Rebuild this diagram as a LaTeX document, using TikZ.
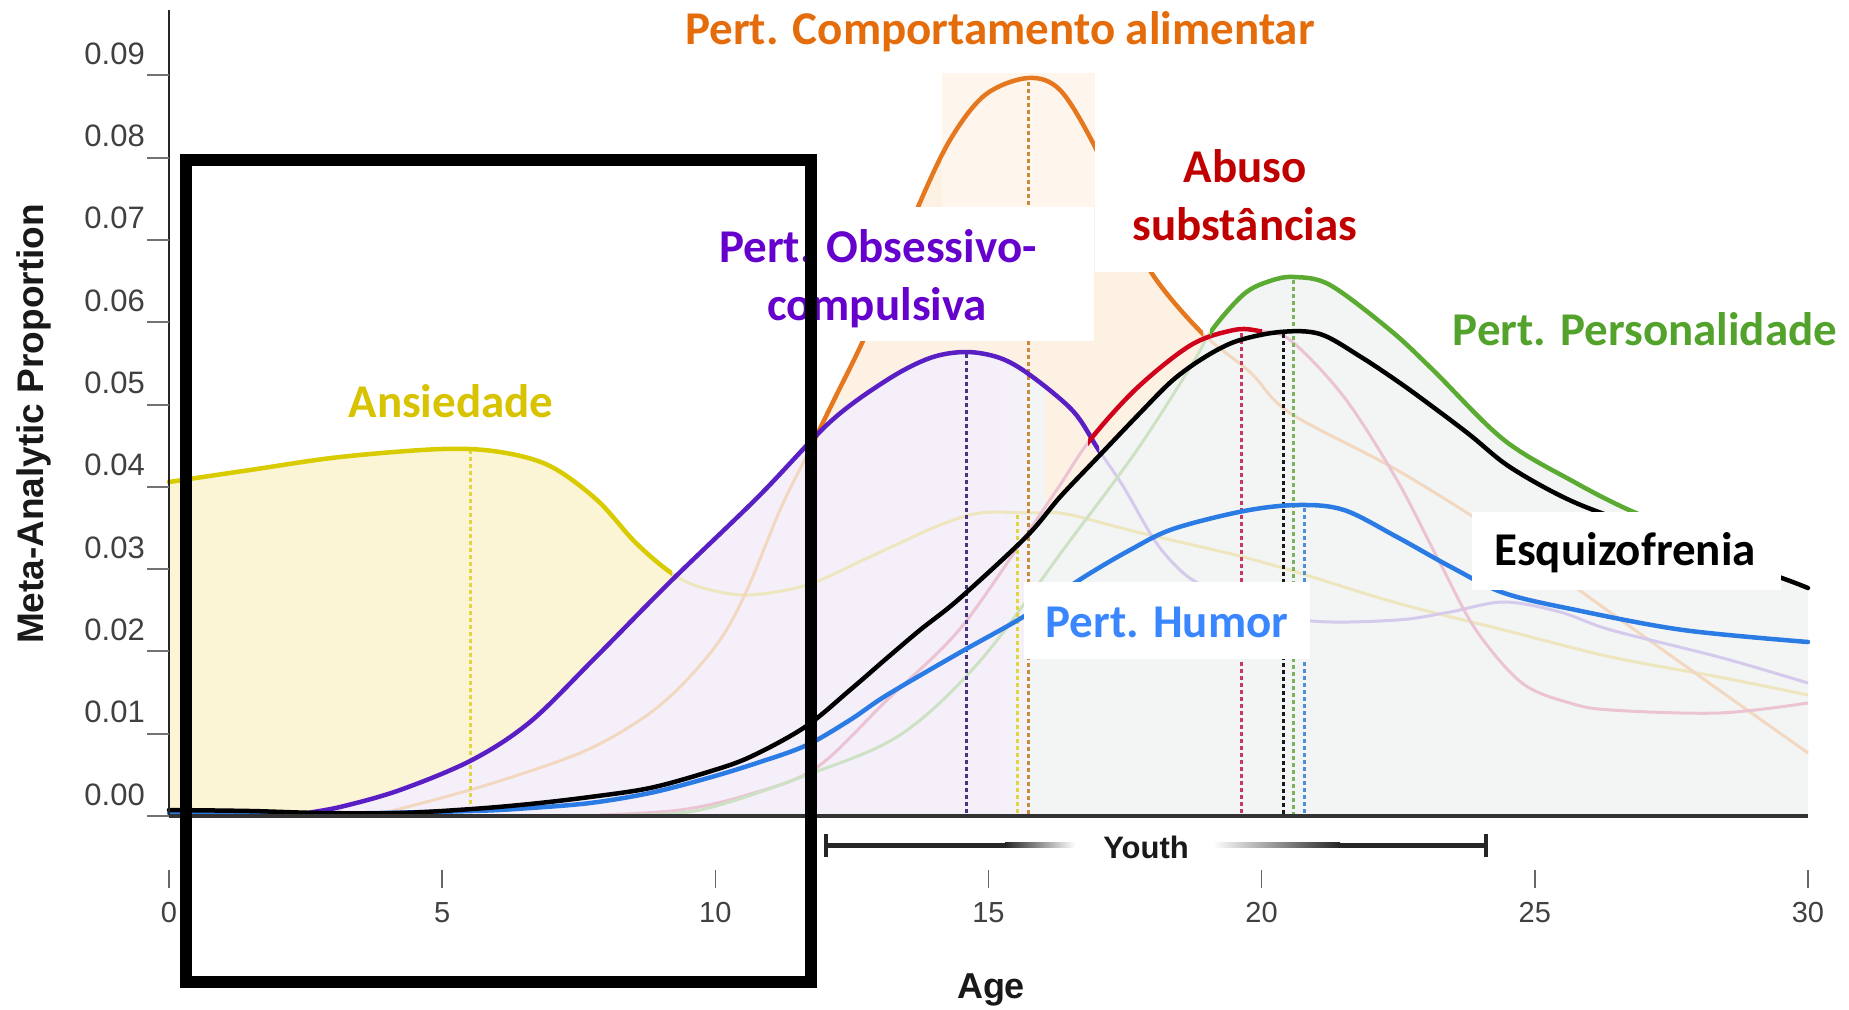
\documentclass[tikz,border=0pt]{standalone}
\usepackage{fontspec}
\setmainfont{Liberation Sans}
\newfontfamily\lblfam{Carlito}
\definecolor{cOrT}{HTML}{E46C0A}
\definecolor{cYelT}{HTML}{D8C300}
\definecolor{cPurT}{HTML}{6600CC}
\definecolor{cRedT}{HTML}{C00000}
\definecolor{cGrnT}{HTML}{52A22C}
\definecolor{cBluT}{HTML}{3A86FF}
\definecolor{cYel}{HTML}{D8CB00}
\definecolor{cPur}{HTML}{5A1FC4}
\definecolor{cOra}{HTML}{E5781E}
\definecolor{cRed}{HTML}{D0021B}
\definecolor{cGrn}{HTML}{5BAA32}
\definecolor{cBlu}{HTML}{2B7BE5}
\definecolor{dPur}{HTML}{4A3580}
\definecolor{dYel}{HTML}{E2D640}
\definecolor{dOra}{HTML}{C98A3C}
\definecolor{dRed}{HTML}{C8385E}
\definecolor{dGrn}{HTML}{79B35A}
\definecolor{dBlu}{HTML}{4C8FD8}
\definecolor{fYel}{HTML}{EDE6BE}
\definecolor{fPur}{HTML}{D5CAEC}
\definecolor{fOra}{HTML}{F2D8C0}
\definecolor{fRed}{HTML}{EBC3D3}
\definecolor{fGrn}{HTML}{CDE2C4}
\definecolor{bGray}{HTML}{F3F5F5}
\definecolor{bYel}{HTML}{FBF5D6}
\definecolor{bLav}{HTML}{F5EFF9}
\definecolor{bPeach}{HTML}{FDF1E3}
\definecolor{bPeachL}{HTML}{FEF6EC}
\tikzset{
  lbl/.style={font=\lblfam\bfseries\fontsize{47}{56}\selectfont, inner sep=0pt, anchor=base},
  solidc/.style={line width=4.5pt, line cap=round},
  fadec/.style={line width=3pt},
  vdash/.style={line width=3pt, dash pattern=on 3.5pt off 3.5pt},
  ytl/.style={font=\fontsize{31}{36}\selectfont, text=black!75, inner sep=0pt, anchor=base east},
  xtl/.style={font=\fontsize{29}{34}\selectfont, text=black!75, inner sep=0pt, anchor=base},
}
\begin{document}
\begin{tikzpicture}[x=1pt,y=-1pt]
\useasboundingbox (0,0) rectangle (1849,1009);
\fill[white] (0,0) rectangle (1849,1009);
\def\cAnx{plot[smooth,tension=0.55] coordinates {(169,482) (250,470) (340,457) (442,449) (500,452) (550,466) (597,500) (635,542) (670,572) (700,587) (747,595) (807,585) (863,560) (900,543) (940,525) (980,513) (1030,513) (1066,514) (1137,532) (1244,557) (1290,570) (1397,603) (1504,630) (1611,657) (1719,677) (1808,695)}}
\def\cPur{plot[smooth,tension=0.55] coordinates {(300,814) (340,807) (400,790) (472,760) (530,722) (593,660) (670,582) (758,497) (830,422) (887,380) (930,358) (966,352) (1000,358) (1030,375) (1073,411) (1098,449) (1123,486) (1155,541) (1180,570) (1201,585) (1240,605) (1312,621) (1397,620) (1450,612) (1504,602) (1560,612) (1611,630) (1719,657) (1808,683)}}
\def\cOra{plot[smooth,tension=0.55] coordinates {(380,814) (480,787) (580,753) (640,720) (680,687) (720,640) (747,590) (780,510) (807,455) (834,400) (862,343) (890,278) (918,207) (950,140) (985,95) (1028,78) (1060,90) (1093,143) (1120,205) (1151,272) (1201,332) (1250,372) (1290,413) (1397,470) (1504,537) (1611,613) (1719,690) (1808,753)}}
\def\cRed{plot[smooth,tension=0.55] coordinates {(600,815) (680,810) (747,795) (816,768) (887,700) (959,630) (1026,535) (1060,485) (1090,440) (1137,388) (1191,345) (1234,330) (1259,331) (1290,340) (1344,397) (1397,480) (1440,563) (1476,630) (1522,683) (1570,703) (1611,710) (1719,713) (1808,703)}}
\def\cGrn{plot[smooth,tension=0.55] coordinates {(620,815) (700,810) (807,775) (900,735) (980,661) (1066,546) (1137,450) (1191,366) (1212,330) (1244,294) (1270,281) (1294,277) (1330,285) (1390,330) (1433,370) (1504,440) (1576,483) (1629,510) (1680,530)}}
\def\cBlk{plot[smooth,tension=0.55] coordinates {(169,810) (250,811) (320,813) (400,813) (472,809) (530,804) (590,797) (650,788) (708,772) (750,757) (805,727) (850,690) (887,658) (920,630) (959,599) (1026,537) (1060,497) (1098,457) (1140,413) (1173,380) (1205,357) (1237,341) (1280,332) (1320,334) (1361,357) (1400,383) (1433,407) (1470,435) (1504,463) (1540,485) (1576,503) (1620,520) (1700,550) (1779,577) (1808,588)}}
\def\cBlu{plot[smooth,tension=0.55] coordinates {(169,813) (250,814) (320,814) (472,811) (530,808) (590,803) (650,793) (708,778) (760,762) (807,745) (850,720) (887,695) (959,653) (1023,617) (1084,577) (1130,550) (1173,529) (1244,511) (1298,505) (1344,510) (1397,537) (1451,567) (1504,593) (1576,610) (1683,630) (1808,642)}}
% ---------- fills
\begin{scope}
\clip (812,0) rectangle (1205,816);
\fill[bPeach] \cOra -- (1808,816) -- (380,816) -- cycle;
\end{scope}
\fill[bPeachL] (942,73) rectangle (1095,207);
\fill[bGray] \cBlk -- (1808,816) -- (169,816) -- cycle;
\fill[bGray] \cGrn -- (1680,816) -- (620,816) -- cycle;
\begin{scope}
\clip (169,0) rectangle (672,816);
\fill[bYel] \cAnx -- (1808,816) -- (169,816) -- cycle;
\end{scope}
\begin{scope}
\clip \cPur -- (1808,816) -- (300,816) -- cycle;
\fill[bLav] (300,300) rectangle (995,816);
\shade[left color=bLav, right color=bGray] (995,300) rectangle (1045,816);
\end{scope}
% ---------- faded curves
\draw[fadec, fYel] \cAnx;
\draw[fadec, fOra] \cOra;
\draw[fadec, fPur] \cPur;
\draw[fadec, fRed] \cRed;
\draw[fadec, fGrn] \cGrn;
% ---------- dashed verticals
\draw[vdash, dYel] (470,450) -- (470,816);
\draw[vdash, dPur] (966,354) -- (966,816);
\draw[vdash, dYel] (1017,515) -- (1017,816);
\draw[vdash, dOra] (1028,82) -- (1028,816);
\draw[vdash, dRed] (1241,333) -- (1241,816);
\draw[vdash, black!90] (1283,334) -- (1283,816);
\draw[vdash, dGrn] (1293,280) -- (1293,816);
\draw[vdash, dBlu] (1304,508) -- (1304,816);
% ---------- solid curves
\begin{scope}\clip (160,0) rectangle (672,830); \draw[solidc, cYel] \cAnx; \end{scope}
\begin{scope}\clip (812,0) rectangle (1203,830); \draw[solidc, cOra] \cOra; \end{scope}
\begin{scope}\clip (290,0) rectangle (1099,830); \draw[solidc, cPur] \cPur; \end{scope}
\begin{scope}\clip (1088,0) rectangle (1262,830); \draw[solidc, cRed] \cRed; \end{scope}
\begin{scope}\clip (1210,0) rectangle (1700,830); \draw[solidc, cGrn] \cGrn; \end{scope}
\draw[solidc, cBlu] \cBlu;
\draw[solidc, black] \cBlk;
% ---------- white label boxes
\fill[white] (700,207) rectangle (1094,341);
\fill[white] (1095,120) rectangle (1432,272);
\fill[white] (1442,297) rectangle (1849,373);
\fill[white] (1472,512) rectangle (1781,590);
\fill[white] (1024,582) rectangle (1310,659);
% ---------- labels
\node[lbl, text=cOrT] (tEat) at (1000,44) {Pert. Comportamento alimentar};
\node[lbl, text=cYelT] (tAnx) at (451,417) {Ansiedade};
\node[lbl, text=cPurT] (tOcdA) at (878,262) {Pert. Obsessivo-};
\node[lbl, text=cPurT] (tOcdB) at (877,320) {compulsiva};
\node[lbl, text=cRedT] (tSubA) at (1245,182) {Abuso};
\node[lbl, text=cRedT] (tSubB) at (1245,240) {substâncias};
\node[lbl, text=cGrnT] (tPer) at (1645,345) {Pert. Personalidade};
\node[lbl, text=black] (tSch) at (1625,565) {Esquizofrenia};
\node[lbl, text=cBluT] (tHum) at (1167,637) {Pert. Humor};
% ---------- axes
\draw[line width=2pt, black!85] (169,10) -- (169,816);
\foreach \k in {0,...,9} {
  \pgfmathsetmacro\ty{816-82.3*\k}
  \draw[line width=2pt, black!55] (147,\ty) -- (169,\ty);
  \node[ytl] (yl\k) at (145,\ty-11) {0.0\k};
}
\draw[line width=4pt, black!80] (169,816) -- (1808,816);
\foreach \a in {0,5,10,15,20,25,30} {
  \pgfmathsetmacro\tx{169+54.63*\a}
  \draw[line width=1.5pt, black!60] (\tx,870) -- (\tx,888);
  \node[xtl] (xl\a) at (\tx,922) {\a};
}
\node[rotate=90, inner sep=0pt, font=\bfseries\fontsize{37}{44}\selectfont, text=black!90] (ylab) at (34,424) {Meta-Analytic Proportion};
\node[inner sep=0pt, anchor=base, font=\bfseries\fontsize{36}{42}\selectfont, text=black!90] (age) at (991,998) {Age};
% ---------- youth bar
\fill[black!85] (826,842.5) rectangle (1005,847.5);
\shade[left color=black!85, right color=white] (1005,842.5) rectangle (1075,847.5);
\shade[left color=white, right color=black!85] (1213,842.5) rectangle (1340,847.5);
\fill[black!85] (1340,842.5) rectangle (1486,847.5);
\draw[line width=3.5pt, black!85] (826,834) -- (826,857);
\draw[line width=3.5pt, black!85] (1486,834) -- (1486,857);
\node[inner sep=0pt, anchor=base, font=\bfseries\fontsize{31}{36}\selectfont, text=black!90] (youth) at (1146,858) {Youth};
% ---------- frame
\draw[line width=12pt, black] (186,160) rectangle (811,982);
\end{tikzpicture}
\end{document}
